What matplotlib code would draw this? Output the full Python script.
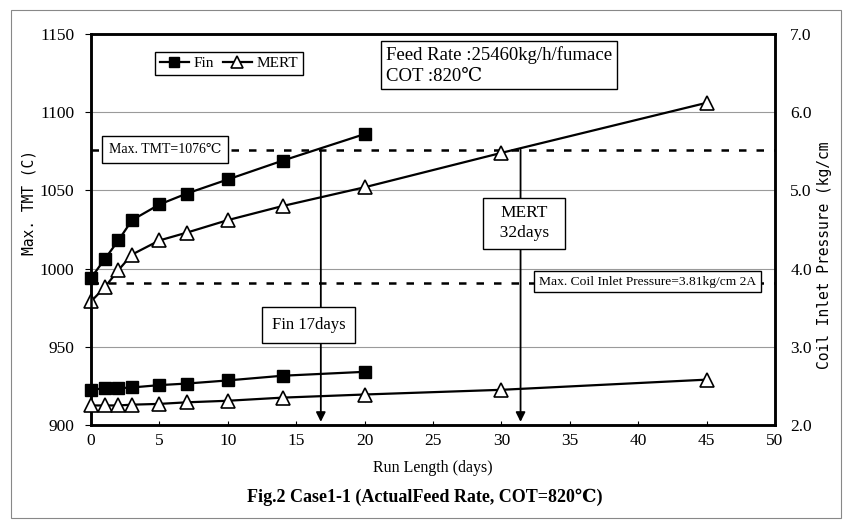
import matplotlib
matplotlib.use("Agg")
import matplotlib.pyplot as plt
from matplotlib.patches import Rectangle

plt.rcParams['font.family'] = ['Liberation Serif', 'DejaVu Serif', 'DejaVu Sans']

# ---------------- data ----------------
days_fin = [0, 1, 2, 3, 5, 7, 10, 14, 20]
days_mert = [0, 1, 2, 3, 5, 7, 10, 14, 20, 30, 45]

tmt_fin = [994, 1006, 1018, 1031, 1041, 1048, 1057, 1069, 1086]
tmt_mert = [979, 988, 999, 1009, 1018, 1023, 1031, 1040, 1052, 1074, 1106]

press_fin = [2.45, 2.47, 2.47, 2.48, 2.51, 2.53, 2.57, 2.63, 2.68]
press_mert = [2.25, 2.25, 2.25, 2.26, 2.27, 2.29, 2.31, 2.35, 2.39, 2.45, 2.58]

max_tmt = 1076
max_press = 3.81
limit_days = [16.8, 31.4]   # Fin, MERT run length where TMT limit is reached

x_ticks = [0, 5, 10, 15, 20, 25, 30, 35, 40, 45, 50]
y1_ticks = [900, 950, 1000, 1050, 1100, 1150]
y2_ticks = [2.0, 3.0, 4.0, 5.0, 6.0, 7.0]

# ---------------- figure ----------------
fig = plt.figure(figsize=(8.49, 5.29), dpi=100)
fig.patches.append(Rectangle((11 / 849, 11 / 529), 830 / 849, 508 / 529,
                             transform=fig.transFigure, fill=False,
                             ec='#888888', lw=0.8))

ax1 = fig.add_axes([91 / 849, 104 / 529, 684 / 849, 391 / 529])
ax2 = ax1.twinx()

ax1.set_xlim(0, 50)
ax1.set_ylim(900, 1150)
ax2.set_ylim(2.0, 7.0)

for y in [950, 1000, 1050, 1100]:
    ax1.axhline(y, color='#9a9a9a', lw=0.8, zorder=0)

for ax in (ax1, ax2):
    for s in ax.spines.values():
        s.set_linewidth(1.8)

ax1.set_xticks(x_ticks)
ax1.set_yticks(y1_ticks)
ax2.set_yticks(y2_ticks)
ax2.set_yticklabels([f"{v:.1f}" for v in y2_ticks])
ax1.tick_params(axis='x', direction='in', length=3, labelsize=12.5, pad=6)
ax1.tick_params(axis='y', direction='out', length=4, labelsize=12.5, pad=8)
ax2.tick_params(axis='y', direction='out', length=0, labelsize=12.5, pad=11)

ax1.set_xlabel("Run Length (days)", fontsize=11.5, labelpad=8)
ax1.set_ylabel("Max. TMT (C)", fontsize=10.5,
               family=['DejaVu Sans Mono', 'DejaVu Sans'])
ax1.yaxis.set_label_coords(-0.080, 0.57)
ax2.set_ylabel("Coil Inlet Pressure (kg/cm", fontsize=10.5,
               family=['DejaVu Sans Mono', 'DejaVu Sans'])
ax2.yaxis.set_label_coords(1.062, 0.435)

# limit lines
ax1.axhline(max_tmt, color='k', lw=1.8, ls=(0, (3, 4)), zorder=2)
ax2.axhline(max_press, color='k', lw=1.8, ls=(0, (3, 4)), zorder=2)

# series
l1, = ax1.plot(days_fin, tmt_fin, color='k', lw=1.6, marker='s', ms=9,
               mfc='k', mec='k', zorder=4, clip_on=False, label='Fin')
l2, = ax1.plot(days_mert, tmt_mert, color='k', lw=1.6, marker='^', ms=10,
               mfc='white', mec='k', mew=1.2, zorder=4, clip_on=False, label='MERT')
ax2.plot(days_fin, press_fin, color='k', lw=1.6, marker='s', ms=9,
         mfc='k', mec='k', zorder=4, clip_on=False)
ax2.plot(days_mert, press_mert, color='k', lw=1.6, marker='^', ms=10,
         mfc='white', mec='k', mew=1.2, zorder=4, clip_on=False)

# arrows
for d in limit_days:
    ax1.annotate('', xy=(d, 902), xytext=(d, max_tmt),
                 arrowprops=dict(arrowstyle='-|>', color='k', lw=1.3,
                                 mutation_scale=14, shrinkA=0, shrinkB=0),
                 zorder=3)

ax1.text(5.4, 1076, "Max. TMT=1076℃", fontsize=10, ha='center', va='center',
         bbox=dict(boxstyle='square,pad=0.5', fc='white', ec='k', lw=1.0), zorder=6)
ax2.text(40.7, 3.835, "Max. Coil Inlet Pressure=3.81kg/cm 2A", fontsize=9.7,
         ha='center', va='center',
         bbox=dict(boxstyle='square,pad=0.35', fc='white', ec='k', lw=1.0), zorder=6)
ax1.text(15.9, 964, "Fin 17days", fontsize=12, ha='center', va='center',
         bbox=dict(boxstyle='square,pad=0.6', fc='white', ec='k', lw=1.0), zorder=6)
ax1.text(31.65, 1029, "MERT\n  32days  ", fontsize=12.5, ha='center', va='center',
         linespacing=1.3,
         bbox=dict(boxstyle='square,pad=0.45', fc='white', ec='k', lw=1.0), zorder=6)
ax1.text(21.55, 1142.5, "Feed Rate :25460kg/h/fumace\nCOT :820℃", fontsize=13.5,
         ha='left', va='top', linespacing=1.3,
         bbox=dict(boxstyle='square,pad=0.25', fc='white', ec='k', lw=1.0), zorder=6)

leg = ax1.legend(handles=[l1, l2], loc='upper left',
                 bbox_to_anchor=(0.0936, 0.954), borderaxespad=0, ncol=2,
                 fontsize=11, frameon=True, fancybox=False, edgecolor='k',
                 framealpha=1, handlelength=1.9, handletextpad=0.3,
                 columnspacing=0.6, borderpad=0.3, markerscale=0.85)
leg.get_frame().set_linewidth(1.0)
leg.set_zorder(7)

fig.text(0.5, (529 - 497) / 529, "Fig.2 Case1-1 (ActualFeed Rate, COT=820℃)",
         ha='center', va='center', fontsize=13, fontweight='bold')

fig.savefig("out.png", dpi=100)
